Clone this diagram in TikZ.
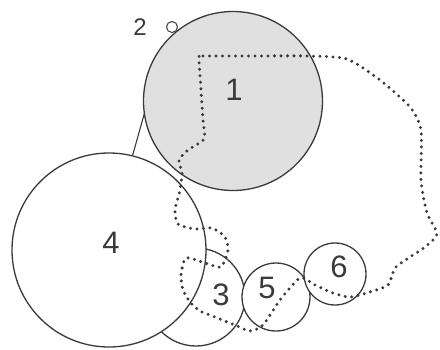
\documentclass[tikz,border=0pt]{standalone}
\usepackage{fontspec}
\setmainfont{Liberation Sans}
\definecolor{ink}{HTML}{3A3A3A}
\definecolor{shade}{HTML}{E0E0E0}
\begin{document}
\begin{tikzpicture}[x=1pt,y=-1pt,
    disc/.style={circle,draw=ink,line width=1.3pt,fill=white,inner sep=0pt,outer sep=0pt},
    tag/.style={font=\fontsize{31}{31}\selectfont,text=ink,inner sep=0pt},
    trail/.style={draw=ink,line width=3.3pt,line cap=round,dash pattern=on 0pt off 6.5pt}]
\useasboundingbox (0,0) rectangle (440,349);
\node[disc,minimum size=98pt] (c3) at (196,297) {};
\node[disc,minimum size=194pt] (c4) at (109,250) {};
\node[disc,minimum size=68pt] (c5) at (276,297) {};
\node[disc,minimum size=62pt] (c6) at (335,274) {};
\node[disc,fill=shade,minimum size=179pt] (c1) at (233,101) {};
\node[disc,minimum size=11pt,line width=1pt] (c2) at (172,27) {};
\draw[ink,line width=1.1pt] (c4.76) -- (c1.188);
\draw[trail] plot[smooth cycle,tension=0.4] coordinates {
    (199,57) (203,56) (250,56) (307,56) (347,59) (380,80) (410,107) (421,130)
    (421,180) (427,213) (437,234) (425,247) (410,257) (395,268) (388,285)
    (370,292) (350,297) (333,293) (315,285) (300,278) (280,300) (263,325)
    (250,331) (237,326) (215,317) (200,311) (190,302) (183,290) (181,275)
    (186,258) (205,263) (221,267) (228,250) (225,237) (212,228) (195,229)
    (178,224) (175,210) (180,190) (182,173) (179,160) (188,150) (204,139)
    (203,120) (201,90) (199,61)};
\node[tag] (l1) at (234,90) {1};
\node[tag,font=\fontsize{24}{24}\selectfont] (l2) at (140,27) {2};
\node[tag] (l3) at (221,295) {3};
\node[tag] (l4) at (111,243) {4};
\node[tag] (l5) at (267,288) {5};
\node[tag] (l6) at (339,267) {6};
\end{tikzpicture}
\end{document}
